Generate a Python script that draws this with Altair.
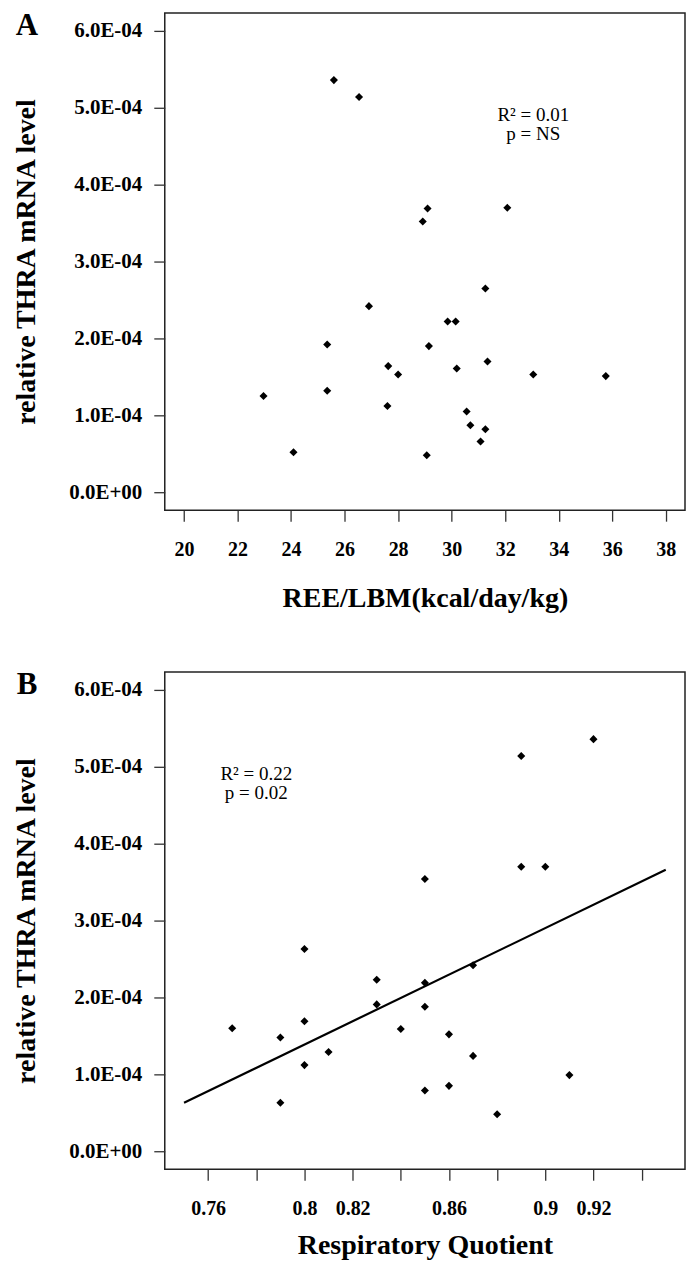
import altair as alt
import pandas as pd

# ---------------- data ----------------
# Panel A: REE/LBM vs relative THRA mRNA level
ree_lbm = [25.6, 26.54, 29.1, 28.92, 32.08, 31.26, 26.91, 29.85, 30.15, 29.15,
           27.63, 28.0, 30.19, 31.34, 33.05, 35.76, 27.6, 30.56, 30.7, 31.26,
           31.08, 29.07, 25.35, 22.97, 25.35, 24.09]
thra_a = [5.36e-4, 5.14e-4, 3.69e-4, 3.52e-4, 3.70e-4, 2.65e-4, 2.42e-4, 2.22e-4, 2.22e-4, 1.90e-4,
          1.64e-4, 1.53e-4, 1.61e-4, 1.70e-4, 1.53e-4, 1.51e-4, 1.12e-4, 1.05e-4, 0.87e-4, 0.82e-4,
          0.66e-4, 0.48e-4, 1.92e-4, 1.25e-4, 1.32e-4, 0.52e-4]

# Panel B: Respiratory Quotient vs relative THRA mRNA level
rq = [0.92, 0.89, 0.89, 0.90, 0.85, 0.83, 0.83, 0.85, 0.85, 0.87, 0.84, 0.86,
      0.87, 0.91, 0.85, 0.86, 0.88, 0.80, 0.77, 0.79, 0.80, 0.81, 0.80, 0.79]
thra_b = [5.36e-4, 5.14e-4, 3.70e-4, 3.70e-4, 3.54e-4, 2.23e-4, 1.91e-4, 2.19e-4, 1.88e-4, 2.42e-4,
          1.59e-4, 1.52e-4, 1.24e-4, 0.99e-4, 0.79e-4, 0.85e-4, 0.48e-4, 2.63e-4, 1.60e-4, 1.48e-4,
          1.69e-4, 1.29e-4, 1.12e-4, 0.63e-4]

# regression line (panel B) endpoints
fit_x = [0.75, 0.95]
fit_y = [0.63e-4, 3.66e-4]

y_ticks = [0, 1e-4, 2e-4, 3e-4, 4e-4, 5e-4, 6e-4]
x_ticks_a = [20, 22, 24, 26, 28, 30, 32, 34, 36, 38]
x_ticks_b = [0.76, 0.78, 0.80, 0.82, 0.84, 0.86, 0.88, 0.90, 0.92, 0.94]
x_labels_b = [0.76, 0.8, 0.82, 0.86, 0.9, 0.92]

annot_a = ["R\u00b2 = 0.01", "p = NS"]
annot_b = ["R\u00b2 = 0.22", "p = 0.02"]

SERIF = "Liberation Serif"
Y_DOMAIN = [-0.234e-4, 6.234e-4]
Y_LABEL_EXPR = "datum.value == 0 ? '0.0E+00' : format(datum.value*1e4, '.1f') + 'E-04'"


def panel(xs, ys, xdom, xticks, xlabel_expr, xtitle, xtitle_y, ann_x, ann_lines, letter, fit=None):
    df = pd.DataFrame({"x": xs, "y": ys})
    x_enc = alt.X("x:Q",
                  scale=alt.Scale(domain=xdom, nice=False, zero=False),
                  axis=alt.Axis(values=xticks, title=xtitle, labelExpr=xlabel_expr,
                                titleY=xtitle_y, titleBaseline="alphabetic",
                                labelOverlap=False, labelFlush=False))
    y_enc = alt.Y("y:Q",
                  scale=alt.Scale(domain=Y_DOMAIN, nice=False, zero=False),
                  axis=alt.Axis(values=y_ticks, title="relative THRA mRNA level",
                                labelExpr=Y_LABEL_EXPR, titleX=-130,
                                titleBaseline="alphabetic"))
    pts = alt.Chart(df).mark_point(shape="diamond", filled=True, color="black",
                                   size=65, opacity=1).encode(x=x_enc, y=y_enc)
    layers = [pts]
    if fit is not None:
        fdf = pd.DataFrame({"x": fit[0], "y": fit[1]})
        layers.append(alt.Chart(fdf).mark_line(color="black", strokeWidth=2.2).encode(
            x="x:Q", y="y:Q"))
    adf = pd.DataFrame({"x": [ann_x, ann_x], "y": [4.83e-4, 4.58e-4], "t": ann_lines})
    layers.append(alt.Chart(adf).mark_text(font=SERIF, fontSize=19, color="black",
                                           align="center", baseline="alphabetic").encode(
        x="x:Q", y="y:Q", text="t:N"))
    ldf = pd.DataFrame({"t": [letter]})
    layers.append(alt.Chart(ldf).mark_text(font=SERIF, fontSize=31, fontWeight="bold",
                                           color="black", align="center",
                                           baseline="alphabetic").encode(
        x=alt.value(-138), y=alt.value(22), text="t:N"))
    return alt.layer(*layers).properties(width=521, height=498)


lbl_b_expr = ("indexof([0.76, 0.8, 0.82, 0.86, 0.9, 0.92], round(datum.value*100)/100) >= 0"
              " ? toString(round(datum.value*100)/100) : ''")

chart_a = panel(ree_lbm, thra_a, [19.28, 38.72], x_ticks_a, "datum.label",
                "REE/LBM(kcal/day/kg)", 96, 33.05, annot_a, "A")
chart_b = panel(rq, thra_b, [0.742, 0.958], x_ticks_b, lbl_b_expr,
                "Respiratory Quotient", 84, 0.78, annot_b, "B",
                fit=(fit_x, fit_y))

chart = alt.vconcat(chart_a, chart_b, spacing=55).properties(
    padding={"left": 4, "top": 0, "right": 0, "bottom": 0}
).configure_view(
    stroke="#222", strokeWidth=1.5
).configure_axis(
    domain=False, grid=False,
    tickColor="#333", tickSize=11, tickWidth=1.3,
    labelFont=SERIF, labelFontWeight="bold", labelColor="black",
    titleFont=SERIF, titleFontWeight="bold", titleFontSize=28, titleColor="black",
).configure_axisX(labelPadding=18, labelFontSize=20
).configure_axisY(labelPadding=12, labelFontSize=21)

chart.save("out.html", embed_options={"renderer": "svg", "actions": False})
